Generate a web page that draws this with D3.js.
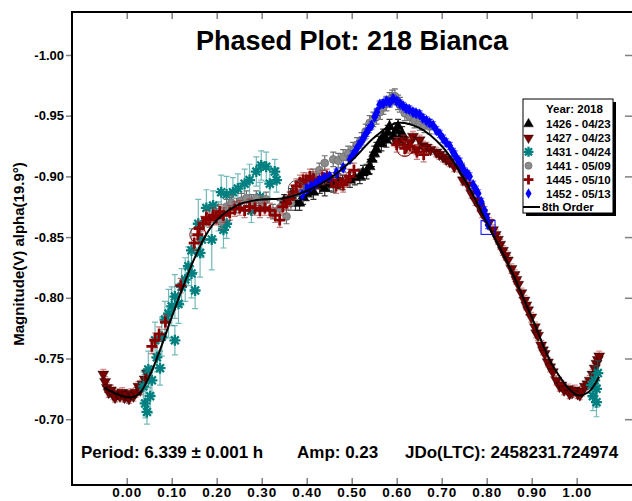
<!DOCTYPE html>
<html>
<head>
<meta charset="utf-8">
<script src="https://cdn.jsdelivr.net/npm/d3@7"></script>
<style>
  body { margin: 0; background: #fff; }
  text { font-family: "Liberation Sans", Arial, sans-serif; font-weight: bold; }
</style>
</head>
<body>
<script>
// phase, magnitude, error
const s1426 = [[0.35,-0.880,0.005],[0.365,-0.884,0.006],[0.375,-0.878,0.006],[0.384,-0.878,0.006],[0.392,-0.883,0.006],[0.40,-0.886,0.006],[0.407,-0.889,0.006],[0.415,-0.887,0.006],[0.429,-0.892,0.006],[0.44,-0.890,0.006],[0.45,-0.894,0.006],[0.459,-0.893,0.006],[0.47,-0.896,0.006],[0.48,-0.895,0.006],[0.496,-0.897,0.006],[0.507,-0.899,0.006],[0.518,-0.900,0.006],[0.525,-0.903,0.006],[0.533,-0.904,0.006],[0.54,-0.908,0.006],[0.545,-0.914,0.006],[0.55,-0.919,0.006],[0.555,-0.922,0.006],[0.56,-0.927,0.006],[0.566,-0.927,0.006],[0.57,-0.933,0.006],[0.577,-0.930,0.006],[0.58,-0.936,0.006],[0.584,-0.941,0.006],[0.592,-0.933,0.006],[0.599,-0.938,0.006],[0.603,-0.941,0.006],[0.607,-0.930,0.006],[0.612,-0.935,0.006]]

const s1427 = [[-0.052,-0.737,0.004],[-0.048,-0.731,0.004],[-0.044,-0.726,0.004],[-0.04,-0.722,0.004],[-0.035,-0.724,0.004],[-0.03,-0.72,0.004],[-0.026,-0.718,0.004],[-0.02,-0.721,0.004],[-0.015,-0.719,0.004],[-0.01,-0.722,0.004],[-0.005,-0.718,0.004],[0.0,-0.72,0.004],[0.005,-0.717,0.004],[0.01,-0.721,0.004],[0.015,-0.719,0.004],[0.02,-0.722,0.004],[0.026,-0.727,0.004],[0.03,-0.724,0.004],[0.035,-0.729,0.004],[0.04,-0.733,0.004],[0.045,-0.738,0.004],
  [0.6,-0.928,0.004],[0.615,-0.93,0.004],[0.621,-0.924,0.004],[0.63,-0.928,0.004],[0.636,-0.933,0.004],[0.644,-0.922,0.004],[0.651,-0.93,0.004],[0.658,-0.925,0.004],[0.666,-0.924,0.004],[0.675,-0.922,0.004],[0.688,-0.920,0.004],[0.695,-0.918,0.004],[0.703,-0.916,0.004],[0.71,-0.914,0.004],[0.718,-0.912,0.004],[0.728,-0.908,0.004],[0.74,-0.907,0.004],[0.747,-0.897,0.004],[0.751,-0.9,0.004],[0.758,-0.893,0.004],[0.766,-0.886,0.004],[0.775,-0.88,0.004],[0.784,-0.875,0.004],[0.79,-0.87,0.004],[0.796,-0.867,0.004],[0.805,-0.862,0.004],[0.814,-0.856,0.004],[0.82,-0.852,0.004],[0.825,-0.848,0.004],[0.83,-0.844,0.004],[0.836,-0.839,0.004],[0.842,-0.835,0.004],[0.847,-0.831,0.004],[0.855,-0.824,0.004],[0.862,-0.819,0.004],[0.866,-0.815,0.004],[0.87,-0.811,0.004],[0.877,-0.804,0.004],[0.884,-0.798,0.004],[0.888,-0.794,0.004],[0.892,-0.79,0.004],[0.899,-0.784,0.004],[0.907,-0.776,0.004],[0.91,-0.771,0.004],[0.914,-0.769,0.004],[0.921,-0.761,0.004],[0.925,-0.757,0.004],[0.929,-0.754,0.004],[0.936,-0.747,0.004],[0.941,-0.743,0.004],[0.947,-0.739,0.004],[0.955,-0.732,0.004],[0.962,-0.727,0.004],[0.966,-0.728,0.004],[0.972,-0.724,0.004],[0.981,-0.725,0.004],[0.984,-0.721,0.004],[0.99,-0.722,0.004],[0.996,-0.724,0.004],[1.002,-0.721,0.004],[1.007,-0.72,0.004],[1.012,-0.723,0.004],[1.018,-0.727,0.004],[1.024,-0.729,0.004],[1.029,-0.732,0.004],[1.035,-0.737,0.004],[1.04,-0.742,0.004],[1.044,-0.746,0.004],[1.047,-0.749,0.004],[1.05,-0.752,0.004]]

const s1431 = [[0.037,-0.727,0.012],[0.041,-0.713,0.012],[0.045,-0.706,0.01],[0.048,-0.741,0.015],[0.052,-0.719,0.014],[0.056,-0.732,0.012],[0.063,-0.765,0.015],[0.067,-0.751,0.012],[0.074,-0.742,0.014],[0.078,-0.768,0.016],[0.085,-0.782,0.015],[0.093,-0.787,0.02],[0.1,-0.793,0.016],[0.107,-0.765,0.012],[0.107,-0.801,0.018],[0.115,-0.795,0.016],[0.122,-0.809,0.015],[0.13,-0.815,0.018],[0.137,-0.826,0.016],[0.144,-0.82,0.02],[0.144,-0.839,0.018],[0.152,-0.806,0.015],[0.159,-0.861,0.02],[0.163,-0.837,0.02],[0.167,-0.848,0.015],[0.177,-0.874,0.015],[0.189,-0.848,0.025],[0.192,-0.876,0.012],[0.204,-0.867,0.012],[0.21,-0.887,0.014],[0.215,-0.856,0.015],[0.222,-0.861,0.012],[0.222,-0.885,0.015],[0.236,-0.887,0.012],[0.247,-0.89,0.012],[0.262,-0.894,0.012],[0.273,-0.897,0.013],[0.277,-0.872,0.01],[0.288,-0.904,0.012],[0.296,-0.883,0.012],[0.299,-0.909,0.012],[0.31,-0.908,0.012],[0.318,-0.894,0.012],[0.329,-0.904,0.01],[0.333,-0.897,0.01],
  [1.033,-0.728,0.01],[1.036,-0.719,0.012],[1.04,-0.732,0.012],[1.044,-0.725,0.015],[1.044,-0.714,0.012],[1.047,-0.738,0.01]]

const s1441 = [[0.199,-0.867,0.006],[0.21,-0.863,0.006],[0.222,-0.875,0.006],[0.233,-0.878,0.006],[0.244,-0.876,0.006],[0.255,-0.88,0.006],[0.266,-0.882,0.006],[0.277,-0.879,0.006],[0.288,-0.882,0.006],[0.3,-0.878,0.006],[0.31,-0.881,0.006],[0.325,-0.871,0.006],[0.34,-0.874,0.006],[0.355,-0.867,0.006],[0.365,-0.878,0.006],[0.377,-0.887,0.006],[0.392,-0.892,0.006],[0.403,-0.895,0.006],[0.414,-0.9,0.006],[0.428,-0.905,0.006],[0.44,-0.911,0.006],[0.459,-0.914,0.006],[0.47,-0.913,0.006],[0.481,-0.916,0.006],[0.492,-0.919,0.006],[0.503,-0.922,0.006],[0.512,-0.926,0.006],[0.522,-0.93,0.006],[0.531,-0.937,0.006],[0.54,-0.944,0.006],[0.548,-0.947,0.006],[0.555,-0.949,0.006],[0.563,-0.953,0.006],[0.57,-0.957,0.006],[0.577,-0.96,0.006],[0.584,-0.963,0.006],[0.59,-0.965,0.006],[0.596,-0.966,0.006],[0.603,-0.961,0.006],[0.607,-0.959,0.006],[0.618,-0.952,0.006],[0.629,-0.949,0.006],[0.64,-0.946,0.006],[0.651,-0.944,0.006],[0.662,-0.942,0.006],[0.673,-0.941,0.006]]

const s1445 = [[0.056,-0.76,0.006],[0.063,-0.765,0.006],[0.072,-0.77,0.006],[0.086,-0.78,0.006],[0.12,-0.81,0.006],[0.15,-0.845,0.006],[0.158,-0.852,0.006],[0.161,-0.857,0.006],[0.17,-0.861,0.006],[0.177,-0.866,0.006],[0.184,-0.864,0.006],[0.192,-0.868,0.006],[0.199,-0.866,0.006],[0.207,-0.871,0.006],[0.215,-0.868,0.006],[0.229,-0.87,0.006],[0.24,-0.873,0.006],[0.251,-0.874,0.006],[0.262,-0.872,0.006],[0.273,-0.875,0.006],[0.285,-0.874,0.006],[0.296,-0.872,0.006],[0.307,-0.874,0.006],[0.318,-0.872,0.006],[0.33,-0.868,0.006],[0.34,-0.864,0.006],[0.347,-0.875,0.006],[0.355,-0.878,0.006],[0.362,-0.881,0.006],[0.37,-0.887,0.006],[0.377,-0.892,0.006],[0.385,-0.895,0.006],[0.392,-0.897,0.006],[0.399,-0.897,0.006],[0.407,-0.9,0.006],[0.415,-0.898,0.006],[0.425,-0.896,0.006],[0.435,-0.899,0.006],[0.445,-0.9,0.006],[0.455,-0.897,0.006],[0.465,-0.892,0.006],[0.475,-0.895,0.006],[0.481,-0.893,0.006],[0.488,-0.897,0.006],[0.495,-0.9,0.006],[0.505,-0.905,0.006],[0.6,-0.926,0.006],[0.618,-0.923,0.006],[0.63,-0.925,0.006],[0.645,-0.92,0.006],[0.66,-0.918,0.006]]

const s1452 = [[0.39,-0.885,0.003],[0.40,-0.89,0.003],[0.41,-0.892,0.003],[0.42,-0.894,0.003],[0.429,-0.897,0.003],[0.44,-0.899,0.003],[0.451,-0.9,0.003],[0.466,-0.903,0.003],[0.481,-0.907,0.003],[0.496,-0.914,0.003],[0.503,-0.918,0.003],[0.51,-0.922,0.003],[0.516,-0.926,0.003],[0.522,-0.929,0.003],[0.528,-0.933,0.003],[0.533,-0.936,0.003],[0.538,-0.939,0.003],[0.544,-0.942,0.003],[0.551,-0.949,0.003],[0.556,-0.953,0.003],[0.562,-0.959,0.003],[0.57,-0.96,0.003],[0.577,-0.962,0.003],[0.585,-0.961,0.003],[0.592,-0.964,0.003],[0.6,-0.962,0.003],[0.607,-0.96,0.003],[0.614,-0.958,0.003],[0.621,-0.956,0.003],[0.628,-0.955,0.003],[0.636,-0.953,0.003],[0.643,-0.952,0.003],[0.651,-0.951,0.003],[0.658,-0.948,0.003],[0.666,-0.946,0.003],[0.673,-0.944,0.003],[0.681,-0.942,0.003],[0.688,-0.938,0.003],[0.696,-0.935,0.003],[0.703,-0.931,0.003],[0.71,-0.928,0.003],[0.718,-0.925,0.003],[0.725,-0.92,0.003],[0.729,-0.918,0.003],[0.735,-0.914,0.003],[0.74,-0.912,0.003],[0.745,-0.908,0.003],[0.751,-0.904,0.003],[0.757,-0.902,0.003],[0.762,-0.9,0.003],[0.77,-0.893,0.003],[0.776,-0.889,0.003],[0.781,-0.886,0.003],[0.788,-0.879,0.003],[0.795,-0.872,0.003],[0.8,-0.866,0.003],[0.803,-0.86,0.003]]

// 8th order Fourier fit
const fitCurve = [[-0.05,-0.726],[0.0,-0.718],[0.025,-0.72],[0.05,-0.735],[0.075,-0.758],[0.1,-0.784],[0.125,-0.809],[0.15,-0.832],[0.175,-0.851],[0.2,-0.864],[0.25,-0.877],[0.3,-0.881],[0.35,-0.882],[0.4,-0.888],[0.45,-0.898],[0.5,-0.913],[0.55,-0.932],[0.6,-0.944],[0.65,-0.94],[0.7,-0.925],[0.75,-0.898],[0.8,-0.862],[0.85,-0.826],[0.9,-0.784],[0.95,-0.742],[1.0,-0.72],[1.025,-0.722],[1.05,-0.735]]

// circled / boxed points
const circled = [[0.158,-0.852,'#8b0000'],[0.618,-0.923,'#8b0000'],[0.377,-0.890,'#555']]
const boxed = [[0.803,-0.858]]

const xTicks = [0,0.1,0.2,0.3,0.4,0.5,0.6,0.7,0.8,0.9,1.0]
const yTicks = [-1.00,-0.95,-0.90,-0.85,-0.80,-0.75,-0.70]

const series = [
  { name: '1426 - 04/23', data: s1426, shape: 'triUp', color: '#000', err: '#333' },
  { name: '1427 - 04/23', data: s1427, shape: 'triDown', color: '#7a0000', err: 'rgba(200,60,60,0.6)' },
  { name: '1431 - 04/24', data: s1431, shape: 'star', color: '#008080', err: 'rgba(0,128,128,0.55)' },
  { name: '1441 - 05/09', data: s1441, shape: 'circle', color: '#8a8a8a', err: '#707070' },
  { name: '1445 - 05/10', data: s1445, shape: 'plus', color: '#8b0000', err: 'rgba(160,40,40,0.6)' },
  { name: '1452 - 05/13', data: s1452, shape: 'diamond', color: '#0000ff', err: 'rgba(0,0,255,0.6)' },
]

const period = '6.339', periodErr = '0.001', amp = '0.23', jd0 = '2458231.724974'

const W = 632, H = 501
const x = d3.scaleLinear().domain([-0.1216, 1.1229]).range([72, 632])
const y = d3.scaleLinear().domain([-1.0354, -0.6458]).range([12, 485])

const svg = d3.select('body').append('svg').attr('width', W).attr('height', H)

function marker (g, shape, color, s) {
  s = s || 1
  if (shape === 'triUp' || shape === 'triDown') {
    const t = d3.symbol(d3.symbolTriangle, 52 * s * s)()
    g.append('path').attr('d', t).attr('fill', color).attr('stroke', '#000').attr('stroke-width', 0.4)
      .attr('transform', shape === 'triDown' ? 'rotate(180)' : null)
  } else if (shape === 'circle') {
    g.append('circle').attr('r', 4 * s).attr('fill', color).attr('stroke', '#666').attr('stroke-width', 0.6)
  } else if (shape === 'diamond') {
    g.append('path').attr('d', d3.symbol(d3.symbolDiamond, 40 * s * s)()).attr('fill', color)
  } else if (shape === 'plus') {
    const r = 5.5 * s
    g.append('path').attr('d', `M${-r},0H${r}M0,${-r}V${r}`).attr('stroke', color).attr('stroke-width', 2.8)
  } else if (shape === 'star') {
    const r = 5.5 * s, q = r * 0.72
    g.append('path').attr('d', `M${-r},0H${r}M0,${-r}V${r}M${-q},${-q}L${q},${q}M${-q},${q}L${q},${-q}`)
      .attr('stroke', color).attr('stroke-width', 2.3)
  }
}

// axes (ticks only, frame is drawn separately)
const gx = svg.append('g').attr('transform', `translate(0,485)`)
  .call(d3.axisBottom(x).tickValues(xTicks).tickSizeInner(-7).tickSizeOuter(0).tickPadding(2).tickFormat(d => d.toFixed(2)))
gx.selectAll('text').attr('font-size', 13.5).attr('letter-spacing', 0.9).attr('fill', '#000')
svg.append('g').attr('transform', `translate(0,12)`)
  .call(d3.axisTop(x).tickValues(xTicks).tickSizeInner(-7).tickSizeOuter(0).tickFormat(''))
const gy = svg.append('g').attr('transform', `translate(72,0)`)
  .call(d3.axisLeft(y).tickValues(yTicks).tickSizeInner(6).tickSizeOuter(0).tickPadding(2).tickFormat(d => d.toFixed(2)))
gy.selectAll('text').attr('font-size', 13).attr('fill', '#000')
svg.append('g').attr('transform', `translate(632,0)`)
  .call(d3.axisRight(y).tickValues(yTicks).tickSizeInner(-7).tickSizeOuter(0).tickFormat(''))
svg.selectAll('.domain').remove()
svg.selectAll('.tick line').attr('stroke', '#808080').attr('stroke-width', 1.5)
svg.selectAll('.tick text').attr('font-family', '"Liberation Sans", Arial, sans-serif').attr('font-weight', 'bold')

// data
const plot = svg.append('g')
series.forEach(sr => {
  const eb = plot.append('g').attr('stroke', sr.err).attr('stroke-width', 1.2).attr('fill', 'none')
  sr.data.forEach(d => {
    const px = x(d[0]), y0 = y(d[1] - d[2]), y1 = y(d[1] + d[2])
    eb.append('path').attr('d', `M${px},${y0}V${y1}M${px - 3},${y0}H${px + 3}M${px - 3},${y1}H${px + 3}`)
  })
  const mg = plot.append('g')
  sr.data.forEach(d => {
    marker(mg.append('g').attr('transform', `translate(${x(d[0])},${y(d[1])})`), sr.shape, sr.color)
  })
})

circled.forEach(d => {
  plot.append('circle').attr('cx', x(d[0])).attr('cy', y(d[1])).attr('r', 8)
    .attr('fill', 'none').attr('stroke', d[2]).attr('stroke-width', 1)
})
boxed.forEach(d => {
  plot.append('rect').attr('x', x(d[0]) - 7).attr('y', y(d[1]) - 7).attr('width', 14).attr('height', 14)
    .attr('fill', 'none').attr('stroke', '#0000ff').attr('stroke-width', 1)
})

plot.append('path').datum(fitCurve)
  .attr('d', d3.line().x(d => x(d[0])).y(d => y(d[1])).curve(d3.curveCatmullRom))
  .attr('fill', 'none').attr('stroke', '#000').attr('stroke-width', 2)

// frame
svg.append('path').attr('d', `M633,12H72V485H633`).attr('fill', 'none').attr('stroke', '#000').attr('stroke-width', 2)

// title
svg.append('text').attr('x', 352).attr('y', 50).attr('text-anchor', 'middle').attr('font-size', 27)
  .text('Phased Plot: 218 Bianca')

// y label
svg.append('text').attr('transform', 'translate(24,254) rotate(-90)').attr('text-anchor', 'middle')
  .attr('font-size', 15).text('Magnitude(V) alpha(19.9°)')

// footer
svg.append('text').attr('x', 81).attr('y', 458).attr('font-size', 17).text(`Period: ${period} ± ${periodErr} h`)
svg.append('text').attr('x', 297).attr('y', 458).attr('font-size', 17).text(`Amp: ${amp}`)
svg.append('text').attr('x', 405).attr('y', 458).attr('font-size', 17).text(`JDo(LTC): ${jd0}`)

// legend
const lg = svg.append('g').attr('transform', 'translate(523,99)')
lg.append('rect').attr('x', 3).attr('y', 3).attr('width', 90).attr('height', 114).attr('fill', '#000')
lg.append('rect').attr('width', 90).attr('height', 114).attr('fill', '#fff').attr('stroke', '#000').attr('stroke-width', 1)
lg.append('text').attr('x', 23).attr('y', 14).attr('font-size', 11.5).text('Year: 2018')
series.forEach((sr, i) => {
  const cy = 25 + i * 13.9
  marker(lg.append('g').attr('transform', `translate(5.5,${cy})`), sr.shape, sr.color, 0.9)
  lg.append('text').attr('x', 23).attr('y', cy + 4).attr('font-size', 11.5).text(sr.name)
})
lg.append('line').attr('x1', 0).attr('x2', 17).attr('y1', 108).attr('y2', 108).attr('stroke', '#000').attr('stroke-width', 2)
lg.append('text').attr('x', 19).attr('y', 112).attr('font-size', 11.5).text('8th Order')
</script>
</body>
</html>
